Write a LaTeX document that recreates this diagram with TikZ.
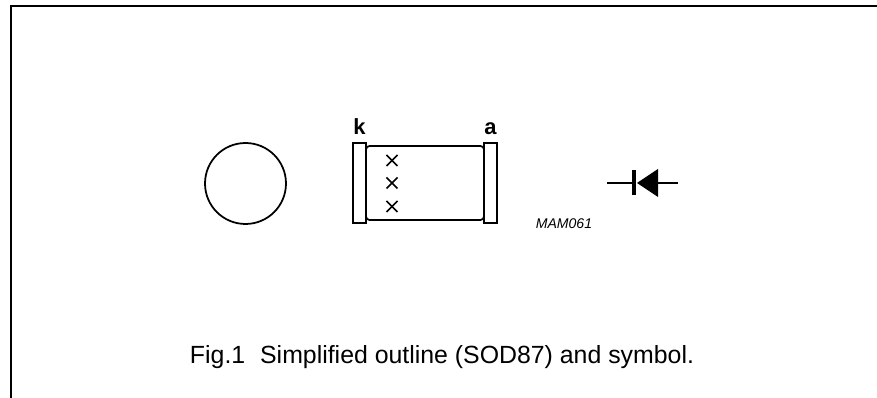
\documentclass[tikz,border=0pt]{standalone}
\usepackage{fontspec}
\setmainfont{Liberation Sans}
\usetikzlibrary{positioning,calc}
\tikzset{
  outline/.style={draw, line width=1pt, inner sep=0pt},
  leadcap/.style={outline, fill=white, minimum width=0.26cm, minimum height=1.6cm},
  marktick/.style={line width=0.85pt},
  wire/.style={line width=1pt},
  pinlabel/.style={font=\bfseries\fontsize{12.5pt}{13pt}\selectfont}
}
\begin{document}
\begin{tikzpicture}[x=0.02cm, y=-0.02cm]
  \useasboundingbox (0,0) rectangle (877,398);
  % frame, open at the right and at the bottom
  \draw[line width=1pt] (11,398) -- (11,6) -- (877,6);
  % end view
  \node[outline, circle, minimum size=1.62cm] (endview) at (245.5,183.5) {};
  % body with its two caps
  \node[outline, rounded corners=2pt, minimum width=2.36cm, minimum height=1.48cm] (body) at (425,183) {};
  \node[leadcap] (capk) at (359.5,183) {};
  \node[leadcap] (capa) at (490.5,183) {};
  \node[pinlabel, above=0.2mm of capk] (labelk) {k};
  \node[pinlabel, above=0.2mm of capa] (labela) {a};
  % type marking
  \foreach \y/\name in {160.5/one, 183/two, 206.5/three} {
    \coordinate (\name) at (392,\y);
    \draw[marktick] ($(\name)+(-5.5,-5.5)$) -- ($(\name)+(5.5,5.5)$);
    \draw[marktick] ($(\name)+(-5.5,5.5)$) -- ($(\name)+(5.5,-5.5)$);
  }
  \node[font=\itshape\fontsize{8pt}{9pt}\selectfont] (code) at (564,223.5) {MAM061};
  % symbol
  \coordinate (pinl) at (607,183);
  \coordinate (pinr) at (678,183);
  \coordinate (bar) at (634,183);
  \coordinate (tip) at (637,183);
  \fill (658,169) -- (tip) -- (658,197) -- cycle;
  \draw[line width=2.2pt] ($(bar)+(0,-12.5)$) -- ($(bar)+(0,12.5)$);
  \draw[wire] (pinl) -- (bar);
  \draw[wire] (658,183) -- (pinr);
  % caption
  \node[font=\fontsize{14.15pt}{16pt}\selectfont] (caption) at (442,357) {Fig.1\hspace{0.6em}Simplified outline (SOD87) and symbol.};
\end{tikzpicture}
\end{document}
